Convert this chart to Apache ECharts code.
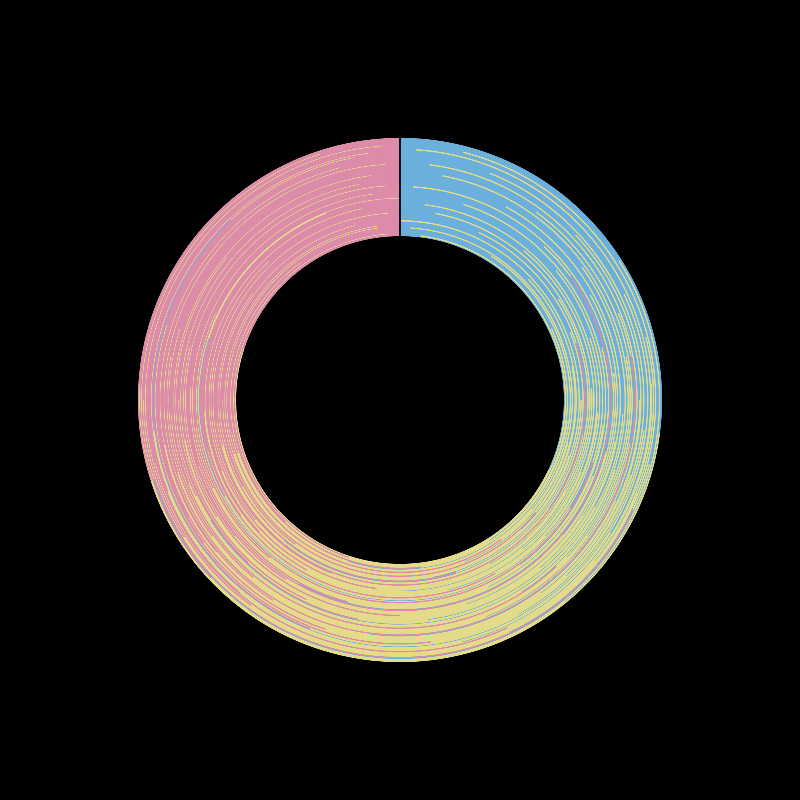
<!DOCTYPE html>
<html>
<head>
<meta charset="utf-8">
<script src="https://cdn.jsdelivr.net/npm/echarts@6/dist/echarts.min.js"></script>
<style>
html, body { margin: 0; padding: 0; background: #000; }
#main { width: 800px; height: 800px; }
</style>
</head>
<body>
<div id="main"></div>
<script>
// share of each ring (percent), inner ring first
const blue = [
	32, 2, 41, 18, 27, 55, 9, 36, 1, 29,
	44, 22, 13, 38, 30, 0, 47, 25, 61, 19,
	35, 7, 28, 42, 16, 33, 3, 50, 24, 39,
	11, 31, 46, 2, 26, 37, 20, 80, 34, 14,
	40, 27, 5, 43, 31, 21, 58, 12, 36, 29,
	1, 45, 23, 34, 17, 39, 28, 8, 48, 33,
	26, 66, 15, 30, 41, 3, 37, 22, 35, 10,
	44, 28, 19, 52, 2, 32, 40, 25, 13, 38,
	30, 6, 42, 27, 88, 18, 34, 46, 1, 24,
	36, 21, 31, 4, 43, 29, 70, 16, 39, 27
];
const yellow = [
	48, 53, 58, 44, 21, 35, 61, 36, 39, 69,
	26, 76, 23, 37, 30, 67, 49, 20, 24, 52,
	38, 13, 28, 57, 48, 45, 49, 38, 45, 24,
	47, 66, 28, 63, 16, 34, 47, 14, 66, 16,
	42, 34, 68, 25, 67, 33, 18, 3, 34, 30,
	63, 54, 27, 45, 49, 33, 69, 49, 27, 29,
	27, 20, 53, 68, 28, 35, 37, 39, 45, 55,
	34, 42, 3, 47, 57, 32, 32, 71, 42, 29,
	35, 42, 38, 29, 9, 55, 64, 23, 60, 19,
	35, 39, 68, 62, 32, 3, 25, 47, 37, 43
];
const pink = [
	20, 45, 1, 38, 52, 10, 30, 28, 60, 2,
	30, 2, 64, 25, 40, 33, 4, 55, 15, 29,
	27, 80, 44, 1, 36, 22, 48, 12, 31, 37,
	42, 3, 26, 35, 58, 29, 33, 6, 0, 70,
	18, 39, 27, 32, 2, 46, 24, 85, 30, 41,
	36, 1, 50, 21, 34, 28, 3, 43, 25, 38,
	47, 14, 32, 2, 31, 62, 26, 39, 20, 35,
	22, 30, 78, 1, 41, 36, 28, 4, 45, 33,
	35, 52, 20, 44, 3, 27, 2, 31, 39, 57,
	29, 40, 1, 34, 25, 68, 5, 37, 24, 30
];
const rings = blue.map((v, i) => 'ring' + (i + 1));
const colors = ['#6cb1dd', '#e4dc8a', '#dd8caa'];

// draw at 4x and let the browser scale it down, otherwise the thin rings alias
let chart = echarts.init(document.getElementById('main'), null, { devicePixelRatio: 4 });

let makeRing = (name, data, color) => ({
	name: name,
	type: 'bar',
	coordinateSystem: 'polar',
	stack: 'all',
	barCategoryGap: '0%',
	data: data,
	// thin border of the same colour hides the seams between rings
	itemStyle: { color: color, borderColor: color, borderWidth: 0.35 }
});

let option = {
	backgroundColor: '#000',
	animation: false,
	polar: {
		center: ['50%', '50%'],
		radius: ['41%', '65.5%']
	},
	angleAxis: {
		type: 'value',
		min: 0,
		max: 100,
		startAngle: 90,
		show: false
	},
	radiusAxis: {
		type: 'category',
		data: rings,
		z: 10,
		axisLine: { // line at 12 o'clock
			show: true,
			lineStyle: { color: '#141414', width: 2 }
		},
		axisTick: { show: false },
		axisLabel: { show: false },
		splitLine: { show: false }
	},
	series: [
		makeRing('blue', blue, colors[0]),
		makeRing('yellow', yellow, colors[1]),
		makeRing('pink', pink, colors[2])
	]
};
chart.setOption(option);
</script>
</body>
</html>
